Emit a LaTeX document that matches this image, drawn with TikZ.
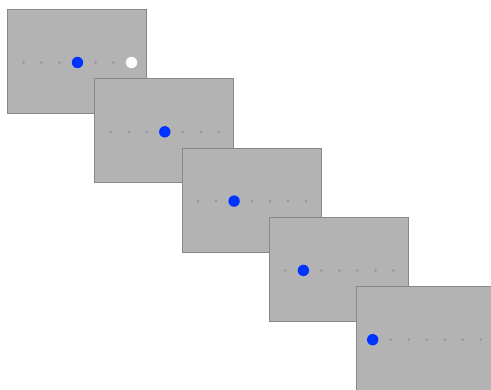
\documentclass[tikz,border=0pt]{standalone}
\definecolor{panelfill}{HTML}{B3B3B3}
\definecolor{panelline}{HTML}{888888}
\definecolor{smalldot}{HTML}{999999}
\definecolor{bluedot}{HTML}{0033FF}
\begin{document}
\begin{tikzpicture}[x=1pt,y=-1pt,
  panel/.style={fill=panelfill,draw=panelline,line width=1pt},
  sdot/.style={fill=smalldot},
  bdot/.style={fill=bluedot},
  wdot/.style={fill=white}]
\clip (0,0) rectangle (491,390);
\useasboundingbox (0,0) rectangle (491,390);
\foreach \k/\b in {0/3,1/3,2/2,3/1,4/0}{
  \pgfmathsetmacro{\L}{7.5+87.3*\k}
  \pgfmathsetmacro{\T}{9.5+69.3*\k}
  \draw[panel] (\L,\T) rectangle ++(139,104);
  \foreach \i in {0,...,6}{
    \pgfmathsetmacro{\X}{\L+16+18*\i}
    \pgfmathsetmacro{\Y}{\T+53}
    \ifnum\i=\b
      \fill[bdot] (\X,\Y) circle (5.7);
    \else
      \ifnum\k=0 \ifnum\i=6
        \fill[wdot] (\X,\Y) circle (5.7);
      \else
        \fill[sdot] (\X,\Y) circle (1.5);
      \fi
      \else
        \fill[sdot] (\X,\Y) circle (1.5);
      \fi
    \fi
  }
}
\end{tikzpicture}
\end{document}
